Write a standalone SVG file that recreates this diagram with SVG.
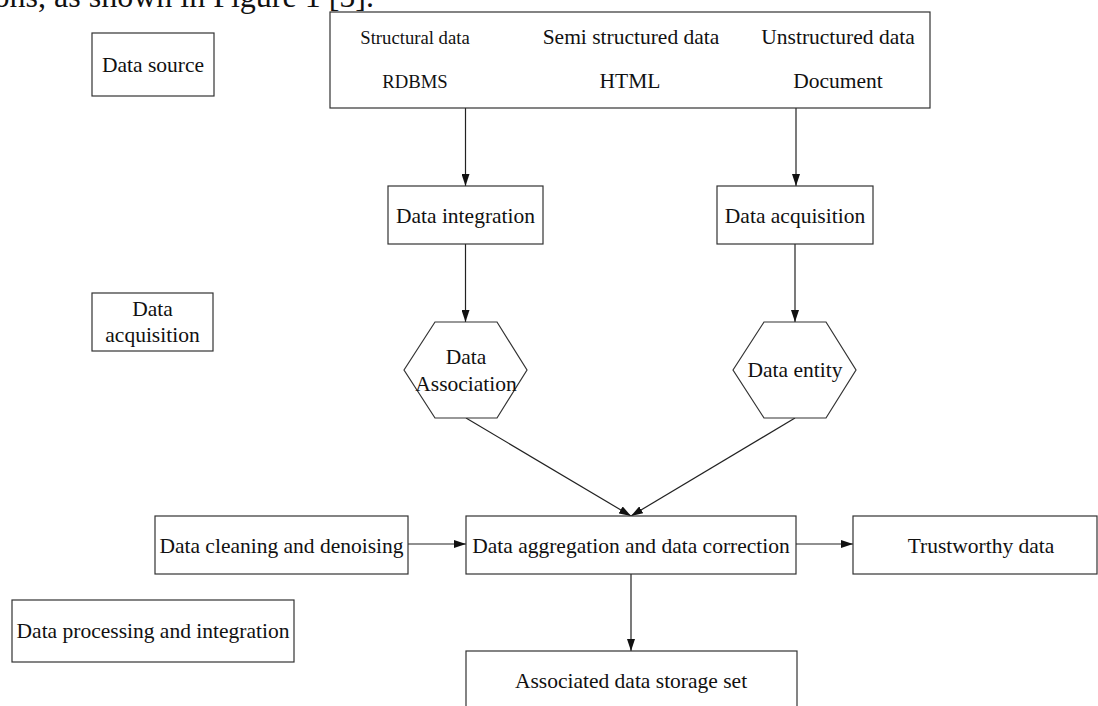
<svg xmlns="http://www.w3.org/2000/svg" width="1098" height="706" viewBox="0 0 1098 706">
<style>
.b{fill:#fff;stroke:#333;stroke-width:1.2}
.t{font-family:"Liberation Serif","Times New Roman",serif;font-size:21.5px;fill:#111;text-anchor:middle}
.s{font-size:18.7px}
.c{stroke:#222;stroke-width:1.2;fill:none}
</style>
<defs>
<marker id="ah" markerWidth="12" markerHeight="8" refX="12" refY="4" orient="auto" markerUnits="userSpaceOnUse">
<path d="M0,0 L12,4 L0,8 Z" fill="#111"/>
</marker>
</defs>
<rect width="1098" height="706" fill="#fff"/>
<text x="374" y="7" font-family="'Liberation Serif','Times New Roman',serif" font-size="32" fill="#111" text-anchor="end">ons, as shown in Figure 1 [5].</text>

<g id="connectors">
<line class="c" x1="465.5" y1="108" x2="465.5" y2="186" marker-end="url(#ah)"/>
<line class="c" x1="796" y1="108" x2="796" y2="186" marker-end="url(#ah)"/>
<line class="c" x1="465.5" y1="244" x2="465.5" y2="322" marker-end="url(#ah)"/>
<line class="c" x1="795" y1="244" x2="795" y2="322" marker-end="url(#ah)"/>
<line class="c" x1="466" y1="418" x2="631" y2="516" marker-end="url(#ah)"/>
<line class="c" x1="795" y1="418" x2="631" y2="516" marker-end="url(#ah)"/>
<line class="c" x1="408" y1="544" x2="466" y2="544" marker-end="url(#ah)"/>
<line class="c" x1="796" y1="544" x2="853" y2="544" marker-end="url(#ah)"/>
<line class="c" x1="631" y1="574" x2="631" y2="651" marker-end="url(#ah)"/>
</g>

<g id="data-source-label">
<rect class="b" x="92" y="33" width="122" height="63"/>
<text class="t" x="153" y="72">Data source</text>
</g>

<g id="sources">
<rect class="b" x="330" y="12" width="600" height="96"/>
<text class="t s" x="415" y="44">Structural data</text>
<text class="t s" x="415" y="88">RDBMS</text>
<text class="t" x="631" y="44">Semi structured data</text>
<text class="t" x="630" y="88">HTML</text>
<text class="t" x="838" y="44">Unstructured data</text>
<text class="t" x="838" y="88">Document</text>
</g>

<g id="data-integration">
<rect class="b" x="388" y="186" width="155" height="58"/>
<text class="t" x="465.5" y="222.5">Data integration</text>
</g>

<g id="data-acquisition">
<rect class="b" x="717" y="186" width="156" height="58"/>
<text class="t" x="795" y="222.5">Data acquisition</text>
</g>

<g id="data-acquisition-label">
<rect class="b" x="92" y="293" width="121" height="58"/>
<text class="t" x="152.5" y="316">Data</text>
<text class="t" x="152.5" y="342">acquisition</text>
</g>

<g id="data-association">
<polygon class="b" points="404,370 435,322 497,322 527,370 497,418 435,418"/>
<text class="t" x="466" y="364">Data</text>
<text class="t" x="466" y="391">Association</text>
</g>

<g id="data-entity">
<polygon class="b" points="733,370 764,322 826,322 856,370 826,418 764,418"/>
<text class="t" x="795" y="377">Data entity</text>
</g>

<g id="data-cleaning">
<rect class="b" x="155" y="516" width="253" height="58"/>
<text class="t" x="281.5" y="552.5">Data cleaning and denoising</text>
</g>

<g id="data-aggregation">
<rect class="b" x="466" y="516" width="330" height="58"/>
<text class="t" x="631" y="552.5">Data aggregation and data correction</text>
</g>

<g id="trustworthy-data">
<rect class="b" x="853" y="516" width="244" height="58"/>
<text class="t" x="981" y="552.5">Trustworthy data</text>
</g>

<g id="data-processing-label">
<rect class="b" x="12" y="600" width="282" height="62"/>
<text class="t" x="153" y="638">Data processing and integration</text>
</g>

<g id="associated-storage">
<rect class="b" x="466" y="651" width="331" height="70"/>
<text class="t" x="631" y="688">Associated data storage set</text>
</g>
</svg>
